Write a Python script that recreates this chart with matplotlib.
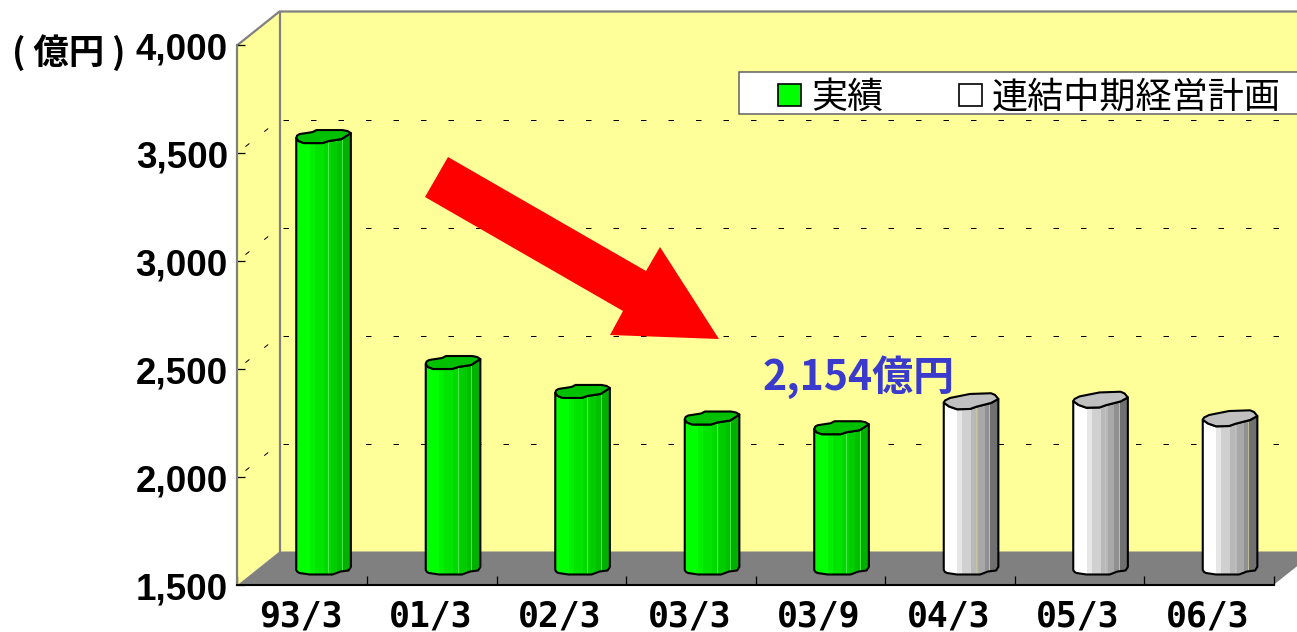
from matplotlib import pyplot as plt
from matplotlib.patches import Polygon, Rectangle, Patch
from matplotlib.transforms import Affine2D

W, H = 1297, 632
DPI = 100

categories = ["93/3", "01/3", "02/3", "03/3", "03/9", "04/3", "05/3", "06/3"]
values = [3502, 2456, 2322, 2199, 2154, 2278, 2285, 2199]
is_plan = [False, False, False, False, False, True, True, True]
y_ticks = [1500, 2000, 2500, 3000, 3500, 4000]
y_tick_labels = ["1,500", "2,000", "2,500", "3,000", "3,500", "4,000"]
legend_labels = ["実績", "連結中期経営計画"]
unit_label = "( 億円 )"
callout_label = "2,154億円"

YELLOW = "#ffff99"
FLOOR = "#808080"
GRAY = "#808080"
CJK = "Noto Sans CJK JP"

# depth of the fake 3d box and of the bars, in pixels
DX, DY = 42, 33.5
BAR_DX, BAR_DY = 21.3, 16
HALF = 27.3

green_strips = ["#00ff00", "#00f000", "#00e400", "#00d800", "#00cc00", "#00c000", "#00b000"]
gray_strips = ["#ffffff", "#e6e6e6", "#d0d0d0", "#b8b8b8", "#a8a8a8", "#909090", "#707070"]
strip_edges = [0, 0.245, 0.34, 0.5, 0.63, 0.75, 0.85, 1]
highlight_at = [0.59, 0.83]

# outline of the wobbly cylinder ends, pixels from the bar centre (up is positive)
green_upper = [(-HALF, -1.5), (-26.5, 1), (-24, 2.5), (-11, 4.5), (-7, 6.5), (19, 6.5), (24, 5.5), (HALF, 3.5)]
green_lower = [(HALF, 3.5), (18, -2.5), (5, -4.5), (-1, -6.5), (-20, -6.5), (-25, -4.5), (-HALF, -1.5)]
gray_upper = [(-HALF, -1.7), (-26, 0.5), (-21, 3), (-11, 5), (-1, 7), (20, 7.7), (24, 6), (HALF, 2)]
gray_lower = [(HALF, 2), (20, -2), (5.5, -5.7), (-1, -8), (-14, -8.3), (-22, -5.5), (-HALF, -1.7)]
bottom = [(-HALF, -1), (-26, -3), (-24, -4), (-14, -5.5), (9, -5.5), (17, -2.5), (25, -1.5), (HALF, 2)]

fig = plt.figure(figsize=(W / DPI, H / DPI), dpi=DPI)
fig.patch.set_facecolor("white")
ax = fig.add_axes([237.5 / W, (H - 585) / H, (1273.5 - 237.5) / W, 540 / H])
ax.patch.set_visible(False)
ax.set_xlim(0, len(categories))
ax.set_ylim(y_ticks[0], y_ticks[-1])

# image coordinates, y going down
px = Affine2D().scale(1, -1).translate(0, H)


def box(points, **kw):
    ax.add_patch(Polygon(points, closed=True, transform=px, clip_on=False, **kw))


x0, x1 = 237.5, 1273.5
y0, y1 = 585, 45
box([(x0, y1), (x0 + DX, y1 - DY), (x0 + DX, y0 - DY), (x0, y0)], fc=YELLOW, ec="none", zorder=0)
box([(x0 + DX, y1 - DY), (x1 + DX, y1 - DY), (x1 + DX, y0 - DY), (x0 + DX, y0 - DY)], fc=YELLOW, ec="none", zorder=0)
box([(x0, y0), (x1, y0), (x1 + DX, y0 - DY), (x0 + DX, y0 - DY)], fc=FLOOR, ec="none", zorder=0.5)

# wall edges
ax.plot([x0, x0 + DX, x1 + DX], [y1, y1 - DY, y1 - DY], color=GRAY, lw=1.6, transform=px, clip_on=False, zorder=1)
ax.plot([x0 + DX, x0 + DX], [y1 - DY, y0 - DY], color=GRAY, lw=1.6, transform=px, clip_on=False, zorder=1)

# gridlines on the back and side wall
for tick in y_ticks[1:-1]:
    y_disp = ax.transData.transform((0, tick))[1]
    yy = H - y_disp
    ax.plot([x0 + DX + 3, x1 + DX], [yy - DY, yy - DY], color="black", lw=0.72, dashes=(5.5, 22), transform=px, clip_on=False, zorder=1)
    ax.plot([x0 + 8, x0 + DX], [yy - 6.4, yy - DY], color="black", lw=0.72, dashes=(5, 19), transform=px, clip_on=False, zorder=1)

# bars
for i, (v, plan) in enumerate(zip(values, is_plan)):
    cx, base = ax.transData.transform((i + 0.5, y_ticks[0]))
    top = ax.transData.transform((i + 0.5, v))[1]
    cx, base, top = cx + BAR_DX, base + BAR_DY, top + BAR_DY

    top_upper = gray_upper if plan else green_upper
    top_lower = gray_lower if plan else green_lower
    outline = [(cx + a, top + b) for a, b in top_lower]
    outline += [(cx + a, base + b) for a, b in bottom]
    strips = gray_strips if plan else green_strips
    clip = Polygon(outline, closed=True, transform=Affine2D())
    for k, c in enumerate(strips):
        left = cx - HALF + strip_edges[k] * 2 * HALF
        width = (strip_edges[k + 1] - strip_edges[k]) * 2 * HALF
        r = Rectangle((left, base - 20), width, top - base + 40, fc=c, ec="none", transform=Affine2D(), zorder=2.1)
        ax.add_patch(r)
        r.set_clip_path(clip)
    for f in highlight_at:
        hx = cx - HALF + f * 2 * HALF
        line, = ax.plot([hx, hx], [base - 20, top + 20], color="#c8c8a0" if plan else "#55ee55", lw=0.6,
                        transform=Affine2D(), zorder=2.2)
        line.set_clip_path(clip)
    ax.add_patch(Polygon(outline, closed=True, fc="none", ec="black", lw=1.5, joinstyle="round",
                         transform=Affine2D(), zorder=3, clip_on=False))
    cap = [(cx + a, top + b) for a, b in top_upper + top_lower[1:]]
    ax.add_patch(Polygon(cap, closed=True, fc="#c0c0c0" if plan else "#00c000", ec="black", lw=1.5, joinstyle="round",
                         transform=Affine2D(), zorder=3.1, clip_on=False))

# axes and labels
for side in ("top", "right"):
    ax.spines[side].set_visible(False)
ax.spines["left"].set_color(GRAY)
ax.spines["left"].set_linewidth(1.6)
ax.spines["bottom"].set_color("black")
ax.spines["bottom"].set_linewidth(1.5)
ax.spines["left"].set_zorder(4)
ax.spines["bottom"].set_zorder(4)

ax.set_yticks(y_ticks, y_tick_labels, family="Liberation Sans", fontweight="bold", fontsize=26.5)
ax.tick_params(axis="y", direction="in", length=5.8, width=0.9, pad=7, color="black")
for lab in ax.get_yticklabels():
    lab.set_verticalalignment("center")
    lab.set_transform(lab.get_transform() + Affine2D().translate(0, -5))
ax.set_xticks(range(len(categories) + 1), [""] * (len(categories) + 1))
ax.set_xticks([i + 0.5 for i in range(len(categories))], categories, minor=True,
              family="DejaVu Sans Mono", fontweight="bold", fontsize=25)
ax.tick_params(axis="x", which="major", direction="in", length=6.5, width=0.9, color="black")
ax.tick_params(axis="x", which="minor", length=0, pad=10.5)
for lab in ax.get_xticklabels(minor=True):
    lab.set_transform(lab.get_transform() + Affine2D().translate(-1.5, 0))

ax.text(12, 53, unit_label, transform=px, family=CJK, fontweight="bold", fontsize=25.5, ha="left", va="center", clip_on=False)

# big arrow and callout
box([(448, 157), (646, 271), (660, 247), (719, 339), (610, 335), (623, 311), (425, 197)], fc="#ff0000", ec="none", zorder=5)
ax.text(763, 377, callout_label, transform=px, family=CJK, fontweight="bold", fontsize=29.5, color="#3a3acc",
        ha="left", va="center", clip_on=False, zorder=5)

# legend, the box runs off the right side of the picture
ax.add_patch(Rectangle((739, 72), 600, 42, transform=px, fc="white", ec="#606060", lw=1.1, clip_on=False, zorder=6))
handles = [Patch(fc="#00ff00", ec="black", lw=1.2), Patch(fc="white", ec="black", lw=1.2)]
leg = ax.legend(handles, legend_labels, ncols=2, frameon=False, loc="upper left",
                bbox_to_anchor=(778, 80), bbox_transform=px, borderpad=0, borderaxespad=0,
                handlelength=0.64, handleheight=0.55, handletextpad=0.27, columnspacing=2.1,
                prop={"family": CJK, "size": 26})
leg.set_zorder(7)

fig.savefig("out.png", dpi=DPI)
